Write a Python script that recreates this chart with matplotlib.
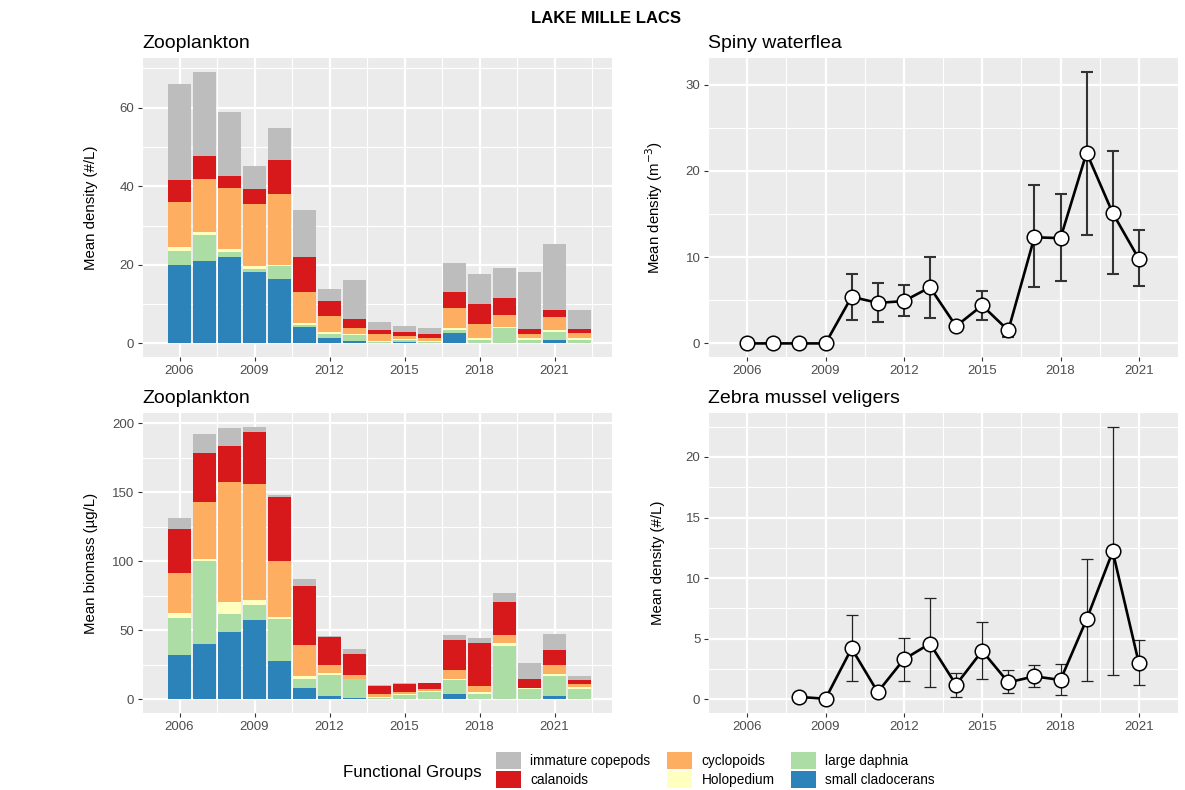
import numpy as np
import matplotlib
matplotlib.use("Agg")
import matplotlib.pyplot as plt
from matplotlib.patches import Patch
from matplotlib.ticker import MultipleLocator

plt.rcParams['font.family'] = ['Liberation Sans', 'DejaVu Sans']

# --- data -------------------------------------------------------------
years = list(range(2006, 2023))
groups = ["small cladocerans", "large daphnia", "Holopedium",
          "cyclopoids", "calanoids", "immature copepods"]
colors = {"immature copepods": "#BDBDBD", "calanoids": "#D7191C",
          "cyclopoids": "#FDAE61", "Holopedium": "#FFFFBF",
          "large daphnia": "#ABDDA4", "small cladocerans": "#2B83BA"}

# density (#/L), one value per year and group (stack from bottom)
dens_small_clad = [20.0, 20.9, 22.1, 18.1, 16.5, 4.1, 1.3, 0.7, 0.2, 0.4, 0.2, 2.6, 0.2, 0.2, 0.2, 0.8, 0.2]
dens_large_daph = [3.6, 6.8, 1.1, 0.9, 3.1, 0.5, 1.0, 1.4, 0.2, 0.4, 0.2, 0.9, 0.7, 3.7, 0.7, 2.1, 0.7]
dens_holopedium = [1.0, 0.7, 0.9, 0.6, 0.4, 0.5, 0.7, 0.4, 0.3, 0.3, 0.2, 0.4, 0.4, 0.4, 0.4, 0.4, 0.4]
dens_cyclopoids = [11.5, 13.4, 15.4, 15.8, 18.0, 8.1, 3.9, 1.5, 1.8, 0.8, 0.7, 5.0, 3.6, 3.0, 1.2, 3.5, 1.3]
dens_calanoids = [5.4, 5.9, 3.1, 3.8, 8.8, 8.7, 3.8, 2.2, 0.9, 1.1, 1.2, 4.1, 5.1, 4.2, 1.2, 1.7, 1.0]
dens_immature = [24.6, 21.5, 16.3, 5.9, 8.1, 12.1, 3.2, 10.0, 2.1, 1.4, 1.5, 7.5, 7.6, 7.8, 14.5, 16.9, 4.9]

# biomass (ug/L)
bio_small_clad = [32.0, 39.9, 48.8, 57.7, 27.9, 7.9, 2.4, 1.2, 0.5, 0.5, 0.5, 3.6, 0.5, 0.5, 0.5, 2.4, 0.5]
bio_large_daph = [26.9, 60.1, 13.2, 10.8, 30.0, 7.2, 15.1, 13.5, 0.7, 2.6, 5.0, 10.3, 3.3, 38.0, 7.0, 14.4, 7.0]
bio_holopedium = [3.8, 1.7, 8.4, 3.1, 1.7, 1.7, 1.3, 0.4, 0.7, 0.7, 0.7, 1.2, 1.7, 2.4, 0.4, 1.2, 1.2]
bio_cyclopoids = [28.6, 41.3, 87.1, 84.2, 40.9, 22.9, 6.0, 2.4, 1.7, 1.7, 1.0, 6.1, 4.4, 5.5, 0.5, 6.8, 2.1]
bio_calanoids = [32.0, 35.0, 25.9, 37.7, 45.7, 42.3, 20.4, 15.0, 6.3, 5.6, 4.3, 21.6, 31.0, 24.0, 6.7, 10.8, 3.1]
bio_immature = [7.7, 13.8, 12.8, 3.9, 1.9, 4.8, 0.7, 3.8, 0.4, 0.4, 0.5, 3.6, 3.8, 6.5, 11.3, 12.0, 2.9]

# spiny waterflea (per m3)
sw_years = list(range(2006, 2022))
sw_mean = [0, 0, 0, 0, 5.4, 4.7, 4.9, 6.5, 2.0, 4.4, 1.5, 12.3, 12.2, 22.1, 15.1, 9.8]
sw_low = [0, 0, 0, 0, 2.7, 2.5, 3.2, 2.9, 2.0, 2.7, 0.8, 6.5, 7.2, 12.6, 8.0, 6.6]
sw_high = [0, 0, 0, 0, 8.1, 7.0, 6.8, 10.0, 2.0, 6.1, 2.1, 18.3, 17.3, 31.5, 22.3, 13.2]

# zebra mussel veligers (#/L)
zm_years = list(range(2008, 2022))
zm_mean = [0.2, 0.05, 4.2, 0.6, 3.3, 4.6, 1.2, 4.0, 1.4, 1.9, 1.6, 6.6, 12.2, 3.0]
zm_low = [0.2, 0.05, 1.5, 0.6, 1.5, 1.0, 0.2, 1.7, 0.5, 1.0, 0.35, 1.5, 2.0, 1.2]
zm_high = [0.2, 0.05, 7.0, 0.6, 5.1, 8.4, 2.2, 6.4, 2.4, 2.8, 2.9, 11.6, 22.5, 4.9]

year_ticks = [2006, 2009, 2012, 2015, 2018, 2021]

density = [dens_small_clad, dens_large_daph, dens_holopedium,
           dens_cyclopoids, dens_calanoids, dens_immature]
biomass = [bio_small_clad, bio_large_daph, bio_holopedium,
           bio_cyclopoids, bio_calanoids, bio_immature]


def expand(lo, hi, frac=0.05):
    pad = (hi - lo) * frac
    return lo - pad, hi + pad


def gg_style(ax, ymajor, yminor, xlim, ylim):
    ax.set_facecolor("#EBEBEB")
    for s in ax.spines.values():
        s.set_visible(False)
    ax.set_xlim(*xlim)
    ax.set_ylim(*ylim)
    ax.set_xticks(year_ticks)
    ax.set_xticks([t + 1.5 for t in [2003] + year_ticks], minor=True)
    ax.yaxis.set_major_locator(MultipleLocator(ymajor))
    ax.yaxis.set_minor_locator(MultipleLocator(yminor))
    ax.grid(which="major", color="white", linewidth=1.6)
    ax.grid(which="minor", color="white", linewidth=0.8)
    ax.set_axisbelow(True)
    ax.tick_params(which="major", length=3, width=0.8, color="#333333",
                   labelsize=9.5, labelcolor="#4D4D4D", pad=2.5)
    ax.tick_params(which="minor", length=0)


def stacked(ax, values, ylabel, ymajor, yminor):
    bottom = np.zeros(len(years))
    for name, vals in zip(groups, values):
        ax.bar(years, vals, bottom=bottom, width=0.9, color=colors[name],
               linewidth=0)
        bottom += np.array(vals)
    xl = expand(years[0] - 0.45, years[-1] + 0.45)
    yl = expand(0, bottom.max())
    gg_style(ax, ymajor, yminor, xl, yl)
    ax.set_ylabel(ylabel, fontsize=10.8)
    ax.yaxis.set_label_coords(-0.094, 0.5)


def errplot(ax, x, mean, low, high, ylabel, ymajor, yminor, elw, ecol):
    mean = np.array(mean)
    yerr = [mean - np.array(low), np.array(high) - mean]
    ax.errorbar(x, mean, yerr=yerr, fmt="none", ecolor=ecol, elinewidth=elw,
                capsize=4, capthick=elw, zorder=2)
    ax.plot(x, mean, color="black", linewidth=1.9, zorder=3)
    ax.plot(x, mean, "o", markersize=10.5, markerfacecolor="white",
            markeredgecolor="black", markeredgewidth=1.1, zorder=4)
    xl = expand(2006, 2021)
    yl = expand(min(min(low), 0), max(high))
    gg_style(ax, ymajor, yminor, xl, yl)
    ax.set_ylabel(ylabel, fontsize=10.8)
    ax.yaxis.set_label_coords(-0.0915, 0.5)


fig = plt.figure(figsize=(11.85, 7.9), dpi=100)
W, H = 1185, 790


def axes_px(x0, y0, x1, y1):
    return fig.add_axes([x0 / W, 1 - y1 / H, (x1 - x0) / W, (y1 - y0) / H])


ax1 = axes_px(142, 58, 612, 357)
ax2 = axes_px(708, 58, 1178, 357)
ax3 = axes_px(142, 413, 612, 713)
ax4 = axes_px(708, 413, 1178, 713)

stacked(ax1, density, "Mean density (#/L)", 20, 10)
stacked(ax3, biomass, "Mean biomass (µg/L)", 50, 25)
errplot(ax2, sw_years, sw_mean, sw_low, sw_high,
        "Mean density (m$^{-3}$)", 10, 5, 1.5, "#333333")
errplot(ax4, zm_years, zm_mean, zm_low, zm_high,
        "Mean density (#/L)", 5, 2.5, 0.9, "#222222")

for ax, t in [(ax1, "Zooplankton"), (ax2, "Spiny waterflea"),
              (ax3, "Zooplankton"), (ax4, "Zebra mussel veligers")]:
    ax.set_title(t, loc="left", fontsize=14, pad=7)

fig.text(0.511, 0.976, "LAKE MILLE LACS", ha="center", va="center",
         fontsize=12, fontweight="bold")

# legend
order = ["immature copepods", "calanoids", "cyclopoids", "Holopedium",
         "large daphnia", "small cladocerans"]
handles = [Patch(facecolor=colors[n], edgecolor="none", label=n) for n in order]
fig.text(343 / W, 1 - 772 / H, "Functional Groups", ha="left", va="center",
         fontsize=12.2)
fig.legend(handles=handles, ncol=3, loc="center left",
           bbox_to_anchor=(486 / W, 1 - 770 / H), frameon=False,
           fontsize=9.8, handlelength=1.85, handleheight=1.6,
           handletextpad=0.7, labelspacing=0.12, columnspacing=1.2,
           borderpad=0.2)

fig.savefig("out.png", dpi=100)
